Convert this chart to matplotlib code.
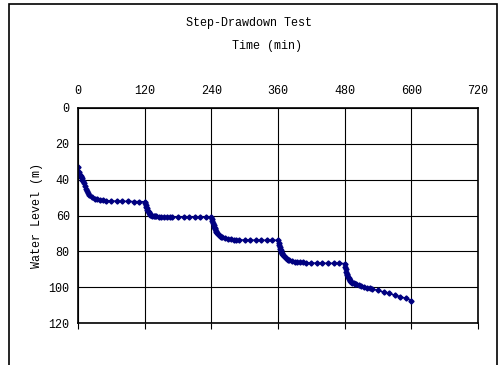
import matplotlib
matplotlib.use("Agg")
import matplotlib.pyplot as plt
from matplotlib.patches import Rectangle

# time (min) and water level (m) per pumping step
t1 = [0, 1, 2, 3, 4, 5, 6, 7, 8, 9, 10, 12, 14, 16, 18, 20, 25, 30, 35, 40, 45, 50, 60, 70, 80, 90, 100, 110, 120]
w1 = [33.0, 35.5, 36.8, 37.4, 37.8, 38.2, 38.6, 39.2, 40.0, 41.0, 42.0, 43.8, 45.3, 46.6, 47.6, 48.5, 49.8, 50.6,
      51.0, 51.3, 51.5, 51.7, 51.9, 52.0, 52.1, 52.1, 52.2, 52.2, 52.3]
t2 = [121, 122, 123, 124, 125, 126, 127, 128, 129, 130, 132, 134, 136, 138, 140, 145, 150, 155, 160, 165, 170, 180,
      190, 200, 210, 220, 230, 240]
w2 = [53.0, 54.0, 55.0, 56.0, 56.8, 57.6, 58.2, 58.8, 59.2, 59.5, 59.9, 60.1, 60.3, 60.4, 60.5, 60.6, 60.7, 60.7,
      60.7, 60.8, 60.8, 60.8, 60.8, 60.9, 60.9, 60.9, 60.9, 60.9]
t3 = [241, 242, 243, 244, 245, 246, 247, 248, 249, 250, 252, 254, 256, 258, 260, 265, 270, 275, 280, 285, 290, 300,
      310, 320, 330, 340, 350, 360]
w3 = [62.0, 63.2, 64.3, 65.3, 66.2, 67.0, 67.8, 68.5, 69.1, 69.6, 70.4, 71.0, 71.5, 71.9, 72.2, 72.7, 73.0, 73.2,
      73.4, 73.5, 73.6, 73.7, 73.7, 73.8, 73.8, 73.8, 73.8, 73.8]
t4 = [361, 362, 363, 364, 365, 366, 367, 368, 369, 370, 372, 374, 376, 378, 380, 385, 390, 395, 400, 405, 410, 420,
      430, 440, 450, 460, 470, 480]
w4 = [75.2, 76.5, 77.6, 78.6, 79.5, 80.3, 81.0, 81.6, 82.1, 82.6, 83.3, 83.9, 84.3, 84.6, 84.9, 85.4, 85.7, 85.9,
      86.1, 86.2, 86.3, 86.5, 86.6, 86.6, 86.7, 86.7, 86.7, 86.8]
t5 = [481, 482, 483, 484, 485, 486, 487, 488, 489, 490, 492, 494, 496, 498, 500, 505, 510, 515, 520, 525, 530, 540,
      550, 560, 570, 580, 590, 600]
w5 = [88.5, 90.0, 91.3, 92.4, 93.3, 94.1, 94.8, 95.4, 95.9, 96.3, 97.0, 97.5, 97.9, 98.2, 98.5, 99.0, 99.4, 99.8,
      100.2, 100.6, 101.0, 101.8, 102.7, 103.5, 104.4, 105.3, 106.2, 107.5]

time = t1 + t2 + t3 + t4 + t5
level = w1 + w2 + w3 + w4 + w5

xticks = [0, 120, 240, 360, 480, 600, 720]
yticks = [0, 20, 40, 60, 80, 100, 120]

plt.rcParams['font.family'] = ['Liberation Mono', 'DejaVu Sans Mono']
plt.rcParams['font.size'] = 8.5

W, H = 503, 365
fig = plt.figure(figsize=(W / 100, H / 100), dpi=100)
ax = fig.add_axes([78 / W, (H - 323) / H, 400 / W, 215 / H])

# outer chart border
fig.patches.append(Rectangle((9 / W, -0.05), 488 / W, (H - 4) / H + 0.05, transform=fig.transFigure,
                             fill=False, edgecolor='black', linewidth=1.2))

ax.plot(time, level, color='#000080', marker='D', markersize=2.6, linewidth=1.0)

ax.set_xlim(0, 720)
ax.set_ylim(120, 0)
ax.set_xticks(xticks)
ax.set_yticks(yticks)
ax.grid(True, color='black', linewidth=0.8)
ax.set_axisbelow(True)

ax.tick_params(axis='x', top=False, bottom=True, labeltop=True, labelbottom=False,
               direction='out', length=4, pad=4)
ax.tick_params(axis='y', left=False, length=0, pad=6)
for s in ax.spines.values():
    s.set_linewidth(1.2)

ax.set_ylabel('Water Level (m)', labelpad=4)
fig.text(249 / W, 1 - 23 / H, 'Step-Drawdown Test', ha='center', va='center')
fig.text(267 / W, 1 - 46 / H, 'Time (min)', ha='center', va='center')

fig.savefig('out.png', dpi=100)
